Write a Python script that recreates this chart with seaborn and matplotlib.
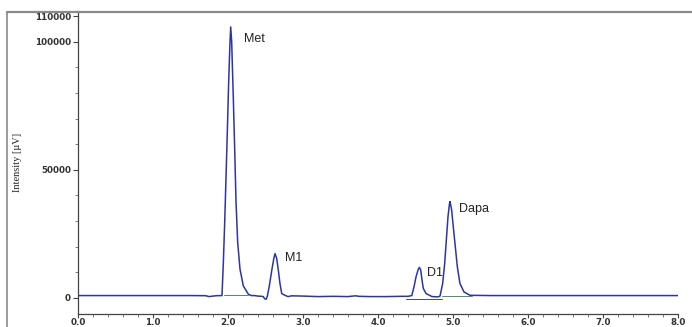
import matplotlib
matplotlib.use("Agg")
import matplotlib.pyplot as plt
from matplotlib.lines import Line2D
from matplotlib.ticker import MultipleLocator, FixedLocator
import seaborn as sns
import pandas as pd

# Chromatogram trace (time in min, intensity in µV)
time_min = [0.0, 0.5, 1.0, 1.5, 1.70, 1.75, 1.80, 1.85, 1.92,
            1.938, 1.956, 1.973, 1.991, 2.009, 2.027, 2.036, 2.049, 2.071, 2.089,
            2.107, 2.129, 2.16, 2.204, 2.271, 2.31, 2.35, 2.40, 2.45, 2.47, 2.49,
            2.51, 2.525, 2.55, 2.584, 2.611, 2.627, 2.649, 2.671, 2.693, 2.716,
            2.76, 2.80, 2.85, 3.0, 3.2, 3.4, 3.6, 3.7, 3.75, 3.9, 4.1, 4.3, 4.40,
            4.45, 4.48, 4.507, 4.536, 4.551, 4.569, 4.587, 4.604, 4.64, 4.72, 4.80,
            4.827, 4.862, 4.889, 4.911, 4.933, 4.951, 4.96, 4.982, 5.004, 5.031,
            5.058, 5.093, 5.147, 5.227, 5.5, 6.0, 7.0, 8.0]
intensity = [900, 900, 900, 900, 850, 500, 700, 850, 900,
             13800, 29500, 46500, 64800, 84400, 100100, 105800, 100100, 77900, 58300,
             37400, 21700, 11200, 4700, 1450, 900, 900, 700, 600, 500, -400,
             -500, 700, 4500, 10800, 15400, 17300, 15400, 10800, 5600, 1700,
             1000, 500, 800, 700, 500, 600, 500, 800, 600, 500, 500, 600, 600,
             900, 4300, 8200, 11100, 11900, 11000, 6900, 3700, 1700, 500, 400,
             700, 5600, 13400, 22500, 31600, 36300, 37600, 34300, 27700, 19900,
             12100, 5600, 2300, 1000, 900, 900, 900, 900]

# Integration baselines (start, end, level)
base_names = ["Met", "D1", "Dapa"]
base_start = [1.95, 4.37, 4.85]
base_end = [2.27, 4.85, 5.25]
base_level = [1100, -300, 900]
base_colors = ["#4f8a6c", "#3a44a8", "#4f8a6c"]

# Peak labels
peak_names = ["Met", "M1", "D1", "Dapa"]
peak_label_t = [2.21, 2.76, 4.65, 5.08]
peak_label_v = [101000, 15500, 9600, 34600]

sns.set_style("white")
plt.rcParams["font.family"] = ["DejaVu Sans"]

fig = plt.figure(figsize=(6.92, 3.27), dpi=100)
ax = fig.add_axes([78 / 692, (327 - 313.5) / 327, 600 / 692, (313.5 - 11) / 327])

df = pd.DataFrame({"t": time_min, "v": intensity})
sns.lineplot(data=df, x="t", y="v", sort=False, estimator=None, ax=ax,
             color="#2a35a8", linewidth=1.1)

for s, e, lv, c in zip(base_start, base_end, base_level, base_colors):
    bdf = pd.DataFrame({"t": [s, e], "v": [lv, lv]})
    sns.lineplot(data=bdf, x="t", y="v", sort=False, estimator=None, ax=ax,
                 color=c, linewidth=0.7)

for name, t, v in zip(peak_names, peak_label_t, peak_label_v):
    ax.text(t, v, name, fontsize=9, color="#222222", va="center", ha="left",
            family=["Liberation Sans", "DejaVu Sans"])

ax.set_xlim(0, 8.0)
ax.set_ylim(-6100, 112000)
ax.set_xlabel("")
ax.set_ylabel("Intensity [µV]", fontsize=7.5, family=["Liberation Serif", "DejaVu Serif"],
              color="#222222", labelpad=9)

ax.xaxis.set_major_locator(MultipleLocator(1.0))
ax.xaxis.set_minor_locator(MultipleLocator(0.2))
ax.set_xticklabels([f"{v:.1f}" for v in ax.get_xticks()])
ax.yaxis.set_major_locator(FixedLocator([0, 50000, 100000, 110000]))
ax.yaxis.set_minor_locator(MultipleLocator(10000))
ax.set_yticklabels(["0", "50000", "100000", "110000"])

ax.tick_params(axis="both", which="major", direction="out", length=3.5, width=0.8,
               color="#444444", labelsize=6.3, labelcolor="#333333", pad=1.5,
               left=True, bottom=True)
ax.tick_params(axis="x", which="major", pad=0.5, length=3)
ax.tick_params(axis="both", which="minor", direction="out", length=2, width=0.6,
               color="#666666", left=True, bottom=True)
for lbl in ax.get_xticklabels() + ax.get_yticklabels():
    lbl.set_fontweight("bold")

sns.despine(ax=ax, top=True, right=True)
for sp in ["left", "bottom"]:
    ax.spines[sp].set_color("#444444")
    ax.spines[sp].set_linewidth(0.9)

# outer frame of the original screenshot
W, H = 692, 327
fig.add_artist(Line2D([7 / W, 7 / W], [0, (H - 12) / H], transform=fig.transFigure,
                      color="#8a8a8a", linewidth=1.2))
fig.add_artist(Line2D([7 / W, 1.0], [(H - 12) / H, (H - 12) / H], transform=fig.transFigure,
                      color="#8a8a8a", linewidth=1.6))

fig.savefig("out.png", dpi=100)
